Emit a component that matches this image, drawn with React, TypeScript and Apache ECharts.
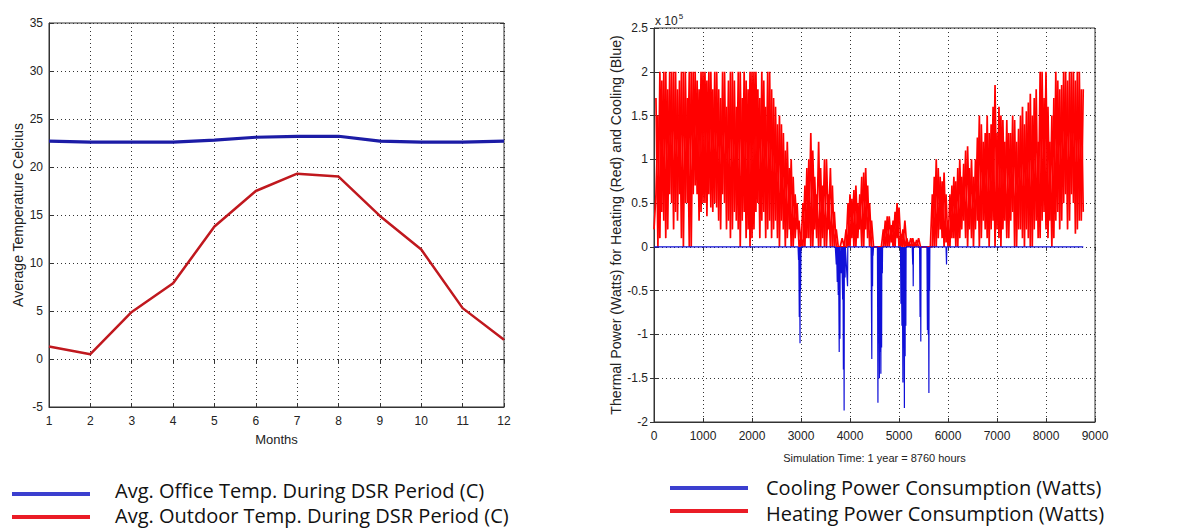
import { useEffect, useRef } from "react";
import * as echarts from "echarts";

// ---------- Left chart data ----------
const months = [1, 2, 3, 4, 5, 6, 7, 8, 9, 10, 11, 12];
const officeTemp = [22.7, 22.6, 22.6, 22.6, 22.8, 23.1, 23.2, 23.2, 22.7, 22.6, 22.6, 22.7];
const outdoorTemp = [1.3, 0.5, 4.9, 7.9, 13.8, 17.5, 19.3, 19.0, 14.9, 11.4, 5.3, 2.0];

// ---------- Right chart data (units of 10^5 W) ----------
const heatStepHours = 40;
// samples at hours 0, 40, 80, ... 8760
const heatPowerA = [
  0.2, 0.6, 1.5, 0.1, 1.9, 0.3, 2.0, 0.2, 2.0, 0.5,
  2.0, 0.4, 1.8, 0.6, 2.0, 0.0, 2.0, 0.5, 2.0, 0.0,
  2.0, 0.7, 1.9, 0.3, 2.0, 0.5, 2.0, 0.35, 2.0, 0.45,
  1.8, 0.5, 2.0, 0.3, 1.7, 0.6, 2.0, 0.2, 1.9, 0.1,
  2.0, 0.4, 1.6, 0.2, 2.0, 0.3, 2.0, 0.1, 1.8, 0.0,
  2.0, 0.2, 2.0, 0.5, 1.7, 0.3, 1.9, 0.1, 2.0, 0.3,
  1.8, 0.2, 1.6, 0.1, 1.5, 0.3, 1.3, 0.0, 1.2, 0.2,
  1.0, 0.0, 0.6, 0.2, 0.3, 0.0, 0.5, 0.0, 0.9, 0.1,
  1.3, 0.0, 0.8, 0.1, 1.2, 0.0, 0.7, 0.0, 1.0, 0.2,
  0.9, 0.0, 0.4, 0.0, 0.0, 0.0, 0.1, 0.0, 0.2, 0.0,
  0.6, 0.1, 0.65, 0.0, 0.5, 0.2, 0.8, 0.0, 0.9, 0.1,
  0.5, 0.0, 0.0, 0.0, 0.0, 0.0, 0.0, 0.0, 0.3, 0.0,
  0.35, 0.05, 0.3, 0.0, 0.5, 0.0, 0.15, 0.0, 0.3, 0.0,
  0.05, 0.0, 0.1, 0.0, 0.08, 0.0, 0.0, 0.0, 0.0, 0.0,
  0.0, 0.0, 0.6, 0.0, 1.0, 0.1, 0.8, 0.1, 0.85, 0.05,
  0.3, 0.0, 0.7, 0.1, 0.75, 0.0, 1.0, 0.2, 0.95, 0.1,
  1.15, 0.2, 1.0, 0.0, 1.0, 0.3, 1.5, 0.1, 1.2, 0.2,
  1.5, 0.0, 1.4, 0.3, 1.85, 0.2, 1.6, 0.0, 1.45, 0.3,
  1.45, 0.1, 1.3, 0.4, 1.45, 0.0, 1.35, 0.2, 1.6, 0.0,
  1.55, 0.1, 1.75, 0.0, 1.7, 0.3, 1.2, 0.1, 2.0, 0.4,
  2.0, 0.1, 1.2, 0.0, 1.7, 0.3, 1.9, 0.2, 1.85, 0.5,
  2.0, 0.2, 2.0, 0.6, 2.0, 0.15, 2.0, 0.3, 1.8, 0.4,
];
// the other daily swings, samples at hours 40, 80, ... 8760
const heatPowerB = [
  1.7, 0.0, 2.0, 0.4, 2.0, 0.1, 1.8, 0.6, 2.0, 0.2,
  2.0, 0.3, 1.9, 0.1, 2.0, 0.5, 1.7, 0.0, 2.0, 0.6,
  2.0, 0.6, 1.8, 0.4, 2.0, 0.5, 1.9, 0.6, 2.0, 0.4,
  2.0, 0.45, 1.8, 0.2, 2.0, 0.5, 1.6, 0.3, 2.0, 0.2,
  1.9, 0.3, 2.0, 0.0, 1.7, 0.4, 1.9, 0.2, 2.0, 0.1,
  2.0, 0.4, 1.8, 0.1, 2.0, 0.4, 1.6, 0.2, 2.0, 0.1,
  1.7, 0.3, 1.4, 0.0, 1.4, 0.2, 1.1, 0.1, 0.9, 0.0,
  0.8, 0.1, 0.5, 0.0, 0.1, 0.0, 0.7, 0.1, 1.0, 0.0,
  1.1, 0.2, 0.6, 0.0, 0.9, 0.1, 1.0, 0.0, 0.6, 0.0,
  0.7, 0.0, 0.2, 0.0, 0.0, 0.0, 0.0, 0.0, 0.5, 0.0,
  0.55, 0.0, 0.7, 0.1, 0.6, 0.0, 0.85, 0.2, 0.7, 0.0,
  0.3, 0.0, 0.0, 0.0, 0.0, 0.0, 0.2, 0.0, 0.35, 0.0,
  0.25, 0.0, 0.4, 0.1, 0.45, 0.0, 0.2, 0.0, 0.1, 0.0,
  0.1, 0.0, 0.05, 0.0, 0.1, 0.0, 0.0, 0.0, 0.0, 0.0,
  0.0, 0.0, 0.8, 0.0, 0.9, 0.2, 0.75, 0.0, 0.6, 0.0,
  0.6, 0.1, 0.8, 0.0, 0.9, 0.1, 0.8, 0.3, 1.1, 0.0,
  0.9, 0.1, 0.8, 0.2, 1.25, 0.0, 1.4, 0.3, 1.3, 0.1,
  1.3, 0.2, 1.6, 0.0, 1.3, 0.1, 1.5, 0.2, 1.2, 0.1,
  1.3, 0.3, 1.5, 0.0, 1.2, 0.2, 1.5, 0.1, 1.4, 0.2,
  1.65, 0.0, 1.5, 0.2, 1.8, 0.1, 2.0, 0.3, 1.7, 0.2,
  1.6, 0.3, 1.5, 0.1, 2.0, 0.4, 1.8, 0.3, 2.0, 0.6,
  1.9, 0.3, 2.0, 0.5, 1.9, 0.2, 2.0, 0.3, 1.8,
];

// [hour, value] pairs for cooling (negative, units of 10^5 W)
const coolPower: [number, number][] = [
  [0, 0], [2940, 0], [2950, -0.15], [2955, 0], [2965, -0.8], [2970, 0], [2980, -1.1], [2985, 0], [2990, -0.5], [3000, 0],
  [3700, 0], [3720, -0.2], [3725, 0], [3740, -0.4], [3745, 0], [3760, -0.55], [3765, 0], [3780, -1.2], [3785, 0],
  [3795, -1.05], [3800, 0], [3820, -0.3], [3830, 0], [3850, -0.6], [3855, 0], [3865, -1.4], [3870, 0], [3880, -1.87],
  [3885, 0], [3900, -0.35], [3905, 0], [3950, -0.45], [3955, 0],
  [4430, 0], [4445, -1.28], [4450, 0], [4460, -0.45], [4465, 0], [4470, -0.1], [4480, 0],
  [4560, 0], [4570, -1.78], [4575, 0], [4585, -1.1], [4590, 0], [4600, -1.5], [4605, 0], [4615, -1.2], [4620, 0],
  [4630, -1.45], [4635, 0], [4645, -1.15], [4650, 0], [4660, -0.3], [4665, 0],
  [5030, 0], [5040, -0.65], [5045, 0], [5060, -0.9], [5065, 0], [5080, -1.55], [5085, 0], [5095, -1.1], [5100, 0],
  [5110, -1.84], [5115, 0], [5125, -1.25], [5130, 0], [5140, -0.9], [5145, 0],
  [5270, 0], [5280, -0.2], [5285, 0], [5290, -0.45], [5295, 0],
  [5420, 0], [5430, -0.8], [5435, 0], [5445, -1.08], [5450, 0],
  [5570, 0], [5580, -0.95], [5585, 0], [5595, -1.0], [5600, 0], [5610, -1.67], [5615, 0], [5625, -0.5], [5630, 0],
  [5960, 0], [5970, -0.2], [5975, 0], [8760, 0],
];

const legendLeft = ["Avg. Office Temp. During DSR Period (C)", "Avg. Outdoor Temp. During DSR Period (C)"];
const legendRight = ["Cooling Power Consumption (Watts)", "Heating Power Consumption (Watts)"];

const FONT = "Liberation Sans, Arial, sans-serif";
const LEGEND_FONT = "Open Sans, sans-serif";

function axisCommon() {
  return {
    axisLine: { show: true, onZero: false, lineStyle: { color: "#333", width: 1 } },
    axisTick: { show: true, inside: true, length: 4, lineStyle: { color: "#333" } },
    axisLabel: { fontFamily: FONT, fontSize: 12, color: "#222" },
    splitLine: { show: true, lineStyle: { type: [1, 3] as any, color: "#333", width: 1 } },
    nameTextStyle: { fontFamily: FONT, fontSize: 12, color: "#222" },
  };
}

function mirrorAxis(gridIndex: number, kind: "x" | "y", min: number, max: number, interval: number) {
  return {
    gridIndex, type: "value", min, max, interval,
    position: kind === "x" ? "top" : "right",
    axisLine: { show: false },
    axisTick: { show: true, inside: true, length: 4, lineStyle: { color: "#333" } },
    axisLabel: { show: false },
    splitLine: { show: false },
  };
}

export default function App() {
  const ref = useRef<HTMLDivElement>(null);
  useEffect(() => {
    const chart = echarts.init(ref.current!, null, { renderer: "svg" });
    const option: any = {
      animation: false,
      backgroundColor: "#fff",
      grid: [
        { left: 49, top: 23, width: 455, height: 384, show: true, borderColor: "#333", borderWidth: 1, backgroundColor: "transparent" },
        { left: 654, top: 28, width: 441, height: 394, show: true, borderColor: "#333", borderWidth: 1, backgroundColor: "transparent" },
      ],
      xAxis: [
        {
          ...axisCommon(), gridIndex: 0, type: "value", min: 1, max: 12, interval: 1,
          name: "Months", nameLocation: "middle", nameGap: 26,
          nameTextStyle: { fontFamily: FONT, fontSize: 13, color: "#222" },
          axisLabel: { ...axisCommon().axisLabel, margin: 8 },
        },
        {
          ...axisCommon(), gridIndex: 1, type: "value", min: 0, max: 9000, interval: 1000,
          name: "Simulation Time: 1 year = 8760 hours", nameLocation: "middle", nameGap: 30,
          nameTextStyle: { fontFamily: FONT, fontSize: 11, color: "#222" },
          axisLabel: { ...axisCommon().axisLabel, margin: 8, formatter: (v: number) => String(v) },
        },
        mirrorAxis(0, "x", 1, 12, 1),
        mirrorAxis(1, "x", 0, 9000, 1000),
      ],
      yAxis: [
        {
          ...axisCommon(), gridIndex: 0, type: "value", min: -5, max: 35, interval: 5,
          name: "Average Temperature Celcius", nameLocation: "middle", nameGap: 24,
          nameTextStyle: { fontFamily: FONT, fontSize: 14, color: "#222" },
          axisLabel: { ...axisCommon().axisLabel, margin: 6 },
        },
        {
          ...axisCommon(), gridIndex: 1, type: "value", min: -2, max: 2.5, interval: 0.5,
          name: "Thermal Power (Watts) for Heating (Red) and Cooling (Blue)", nameLocation: "middle", nameGap: 31,
          nameTextStyle: { fontFamily: FONT, fontSize: 14.2, color: "#222" },
          axisLabel: { ...axisCommon().axisLabel, margin: 6 },
        },
        mirrorAxis(0, "y", -5, 35, 5),
        mirrorAxis(1, "y", -2, 2.5, 0.5),
      ],
      series: [
        {
          type: "line", xAxisIndex: 0, yAxisIndex: 0, symbol: "none",
          data: months.map((m, i) => [m, officeTemp[i]]),
          lineStyle: { color: "#1c1ca6", width: 3.2 },
        },
        {
          type: "line", xAxisIndex: 0, yAxisIndex: 0, symbol: "none",
          data: months.map((m, i) => [m, outdoorTemp[i]]),
          lineStyle: { color: "#c0181e", width: 2.5 },
        },
        {
          type: "line", xAxisIndex: 1, yAxisIndex: 1, symbol: "none",
          data: heatPowerA.map((v, i) => [i * heatStepHours, v]),
          lineStyle: { color: "#ff0000", width: 1.7 },
        },
        {
          type: "line", xAxisIndex: 1, yAxisIndex: 1, symbol: "none",
          data: heatPowerB.map((v, i) => [(i + 1) * heatStepHours, v]),
          lineStyle: { color: "#ff0000", width: 1.7 },
        },
        {
          type: "line", xAxisIndex: 1, yAxisIndex: 1, symbol: "none",
          data: coolPower,
          lineStyle: { color: "#1010d8", width: 1.2 },
        },
      ],
      graphic: [
        {
          type: "text", left: 655, top: 12,
          style: {
            text: "x 10{sup|5}", fontFamily: FONT, fontSize: 12, fill: "#222",
            rich: { sup: { fontSize: 8, verticalAlign: "top", padding: [0, 0, 9, 1], fontFamily: FONT, fill: "#222" } },
          },
        },
        { type: "line", shape: { x1: 12, y1: 494, x2: 90, y2: 494 }, style: { stroke: "#3b3fcf", lineWidth: 4 } },
        { type: "line", shape: { x1: 12, y1: 517, x2: 90, y2: 517 }, style: { stroke: "#ea1c26", lineWidth: 4 } },
        { type: "line", shape: { x1: 670, y1: 488, x2: 748, y2: 488 }, style: { stroke: "#3b3fcf", lineWidth: 4 } },
        { type: "line", shape: { x1: 670, y1: 511, x2: 748, y2: 511 }, style: { stroke: "#ea1c26", lineWidth: 4 } },
        { type: "text", x: 115, y: 490, style: { text: legendLeft[0], fontFamily: LEGEND_FONT, fontSize: 20, fill: "#111", verticalAlign: "middle" } },
        { type: "text", x: 115, y: 515, style: { text: legendLeft[1], fontFamily: LEGEND_FONT, fontSize: 20, fill: "#111", verticalAlign: "middle" } },
        { type: "text", x: 766, y: 487, style: { text: legendRight[0], fontFamily: LEGEND_FONT, fontSize: 20, fill: "#111", verticalAlign: "middle" } },
        { type: "text", x: 766, y: 513, style: { text: legendRight[1], fontFamily: LEGEND_FONT, fontSize: 20, fill: "#111", verticalAlign: "middle" } },
      ],
    };
    chart.setOption(option);
    return () => chart.dispose();
  }, []);
  return (
    <div
      ref={ref}
      style={{ position: "absolute", left: 0, top: 0, width: 1190, height: 529, background: "#fff" }}
    />
  );
}
